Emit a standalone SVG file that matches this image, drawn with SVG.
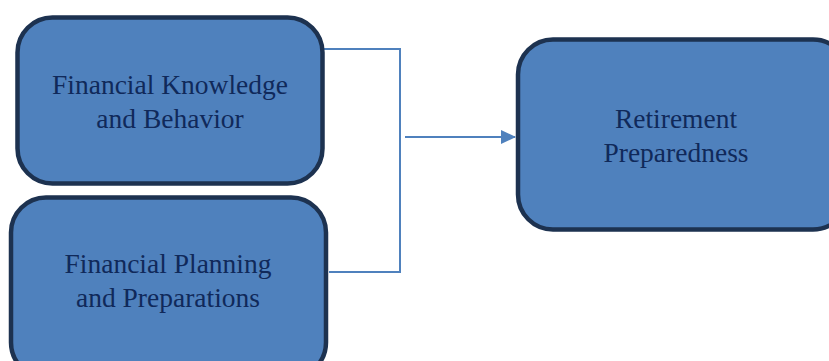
<svg xmlns="http://www.w3.org/2000/svg" width="829" height="361" viewBox="0 0 829 361">
<defs>
<style>
.box{fill:#4F81BD;stroke:#1D3250;stroke-width:4.5}
.lbl{font-family:"Liberation Serif",serif;font-size:27.5px;fill:#10295A;text-anchor:middle}
.conn{fill:none;stroke:#4F81BD;stroke-width:2}
</style>
<marker id="ah" markerWidth="15" markerHeight="14" refX="14" refY="7" orient="auto" markerUnits="userSpaceOnUse">
<path d="M0,0 L15,7 L0,14 Z" fill="#4F81BD"/>
</marker>
</defs>
<rect width="829" height="361" fill="#fff"/>
<g id="connectors">
<polyline class="conn" points="324,49 400,49 400,272 329,272"/>
<line class="conn" x1="405" y1="137" x2="515" y2="137" marker-end="url(#ah)"/>
</g>
<g id="node1">
<rect class="box" x="17.5" y="17.5" width="305" height="166" rx="35"/>
<text class="lbl" x="170" y="94">Financial Knowledge</text>
<text class="lbl" x="170" y="128">and Behavior</text>
</g>
<g id="node2">
<rect class="box" x="11" y="197.5" width="315" height="180" rx="35"/>
<text class="lbl" x="168" y="273">Financial Planning</text>
<text class="lbl" x="168" y="307">and Preparations</text>
</g>
<g id="node3">
<rect class="box" x="518" y="39.5" width="330" height="190" rx="35"/>
<text class="lbl" x="676" y="128">Retirement</text>
<text class="lbl" x="676" y="162">Preparedness</text>
</g>
</svg>
